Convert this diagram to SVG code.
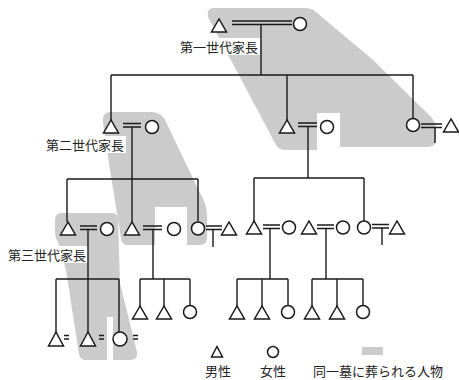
<svg xmlns="http://www.w3.org/2000/svg" width="459" height="380" viewBox="0 0 459 380">
<style>
.bg{fill:#cbcbcb;stroke:none}
.lb{fill:#fff;stroke:none}
.ln{stroke:#1a1a1a;stroke-width:1.4;fill:none}
.m{fill:#fff;stroke:#1a1a1a;stroke-width:1.5}
.f{fill:#fff;stroke:#1a1a1a;stroke-width:1.5}
text{font-family:"Noto Sans CJK JP","Noto Sans CJK SC",sans-serif;font-size:13px;fill:#222}
</style>
<g id="shading">
<path class="bg" d="M214,8 L304,8 Q312,8 316,12 L373,60 L428,114 Q436,121 436,129 L436,139 Q436,147 427,147 L340,147 L340,113 L317,113 L317,150 L285,150 Q278,150 275,143 L208,17 Q206,8 214,8 Z"/>
<path class="bg" d="M110,112 L152,112 Q162,112 166,122 L200,193 Q207,205 207,215 L207,238 Q207,245 200,245 L187,245 L187,207 L155,207 L155,245 L127,245 Q122,245 121,238 L110,170 L103,122 Q102,112 110,112 Z"/>
<path class="bg" d="M62,213 L112,213 Q118,213 118,220 L120,283 L137,352 Q138,360 130,360 L113,360 L113,317 L107,317 L107,360 L86,360 Q80,360 79,354 L66,270 L58,242 Q55,238 55,230 L55,220 Q55,213 62,213 Z"/>
<rect class="bg" x="362" y="347" width="21" height="8"/>
</g>
<g id="labels">
<rect class="lb" x="177" y="38" width="83" height="17"/>
<text x="258" y="52" text-anchor="end">第一世代家長</text>
<rect class="lb" x="42" y="136" width="84" height="17"/>
<text x="124" y="150" text-anchor="end">第二世代家長</text>
<rect class="lb" x="4" y="246" width="84" height="17"/>
<text x="86" y="260" text-anchor="end">第三世代家長</text>
</g>
<g id="connectors">
<!-- gen1 marriage -->
<path class="ln" d="M232,21 H292 M232,24.5 H292 M261,24.5 V75"/>
<path class="ln" d="M111,75 H413 M111,75 V120 M287,75 V120 M413,75 V118"/>
<!-- gen2 marriages -->
<path class="ln" d="M123,123.5 H141 M123,127 H141 M132,127 V179"/>
<path class="ln" d="M298,123 H317 M298,126.5 H317 M308,126.5 V178"/>
<path class="ln" d="M421,124 H442 M421,127.5 H442 M435,127.5 V143"/>
<!-- gen2 children -->
<path class="ln" d="M67,179 H198 M67,179 V222 M132,179 V222 M198,179 V221"/>
<path class="ln" d="M254,178 H364 M254,178 V222 M364,178 V221"/>
<!-- gen3 marriages -->
<path class="ln" d="M80,226 H97 M80,229.5 H97 M88,229.5 V279"/>
<path class="ln" d="M143,226 H162 M143,229.5 H162 M153,229.5 V279"/>
<path class="ln" d="M206,226 H222 M206,229.5 H222 M213,229.5 V247"/>
<path class="ln" d="M263,225 H280 M263,228.5 H280 M270,228.5 V279"/>
<path class="ln" d="M317,225 H334 M317,228.5 H334 M326,228.5 V279"/>
<path class="ln" d="M372,224.5 H389 M372,228 H389 M382,228 V245"/>
<!-- gen3 children -->
<path class="ln" d="M56,279 H119 M56,279 V332 M88,279 V332 M119,279 V332"/>
<path class="ln" d="M140,279 H190 M140,279 V306 M164,279 V306 M190,279 V305"/>
<path class="ln" d="M237,279 H288 M237,279 V306 M262,279 V306 M288,279 V305"/>
<path class="ln" d="M312,279 H363 M312,279 V306 M337,279 V306 M363,279 V305"/>
<!-- gen4 marriage stubs -->
<path class="ln" d="M64,335.5 H69 M64,339 H69 M99,335.5 H104 M99,339 H104 M133,335.5 H138 M133,339 H138"/>
</g>
<g id="gen1-head"><polygon class="m" points="219,19 211.5,32 226.5,32"/></g>
<g id="gen1-wife"><circle class="f" cx="300" cy="24" r="6.5"/></g>
<g id="gen2-head"><polygon class="m" points="111,120 103.5,133 118.5,133"/></g>
<g id="gen2-head-wife"><circle class="f" cx="152" cy="127" r="6.5"/></g>
<g id="gen2-son"><polygon class="m" points="287,120 279.5,133 294.5,133"/></g>
<g id="gen2-son-wife"><circle class="f" cx="327" cy="127" r="6.5"/></g>
<g id="gen2-daughter"><circle class="f" cx="413" cy="125" r="6.5"/></g>
<g id="gen2-daughter-husband"><polygon class="m" points="451,119 443.5,132 458.5,132"/></g>
<g id="gen3-head"><polygon class="m" points="68,222 60.5,235 75.5,235"/></g>
<g id="gen3-head-wife"><circle class="f" cx="107" cy="229" r="6.5"/></g>
<g id="gen3-son2"><polygon class="m" points="132,222 124.5,235 139.5,235"/></g>
<g id="gen3-son2-wife"><circle class="f" cx="174" cy="229" r="6.5"/></g>
<g id="gen3-daughter"><circle class="f" cx="198" cy="228.5" r="6.5"/></g>
<g id="gen3-daughter-husband"><polygon class="m" points="229,222 221.5,235 236.5,235"/></g>
<g id="gen3-c1"><polygon class="m" points="254,221 246.5,234 261.5,234"/></g>
<g id="gen3-c1-wife"><circle class="f" cx="289" cy="227.5" r="6.5"/></g>
<g id="gen3-c2"><polygon class="m" points="309,221 301.5,234 316.5,234"/></g>
<g id="gen3-c2-wife"><circle class="f" cx="343" cy="227.5" r="6.5"/></g>
<g id="gen3-c3"><circle class="f" cx="364" cy="227.5" r="6.5"/></g>
<g id="gen3-c3-husband"><polygon class="m" points="397,221 389.5,234 404.5,234"/></g>
<g id="gen4-a1"><polygon class="m" points="56,332 48.5,346 63.5,346"/></g>
<g id="gen4-a2"><polygon class="m" points="88,332 80.5,346 95.5,346"/></g>
<g id="gen4-a3"><circle class="f" cx="120" cy="339" r="7"/></g>
<g id="gen4-b1"><polygon class="m" points="140,306 132.5,319 147.5,319"/></g>
<g id="gen4-b2"><polygon class="m" points="164,306 156.5,319 171.5,319"/></g>
<g id="gen4-b3"><circle class="f" cx="190" cy="312" r="6.5"/></g>
<g id="gen4-c1"><polygon class="m" points="237,306 229.5,319 244.5,319"/></g>
<g id="gen4-c2"><polygon class="m" points="262,306 254.5,319 269.5,319"/></g>
<g id="gen4-c3"><circle class="f" cx="288" cy="312" r="6.5"/></g>
<g id="gen4-d1"><polygon class="m" points="312,306 304.5,319 319.5,319"/></g>
<g id="gen4-d2"><polygon class="m" points="337,306 329.5,319 344.5,319"/></g>
<g id="gen4-d3"><circle class="f" cx="363" cy="312" r="6.5"/></g>
<g id="legend">
<polygon class="m" points="217,346.5 211.5,357 222.5,357"/>
<circle class="f" cx="273" cy="352" r="5.5"/>
<text x="218" y="376" text-anchor="middle">男性</text>
<text x="273" y="376" text-anchor="middle">女性</text>
<text x="378" y="376" text-anchor="middle">同一墓に葬られる人物</text>
</g>
</svg>
